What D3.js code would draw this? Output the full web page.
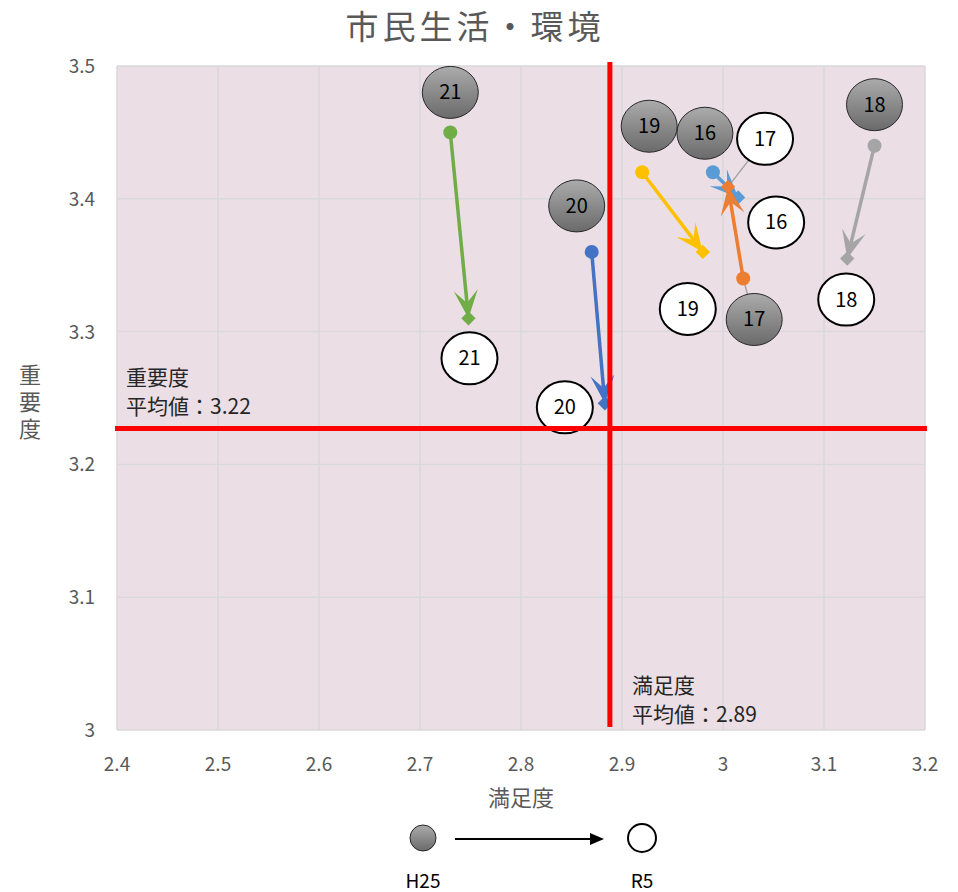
<!DOCTYPE html>
<html>
<head>
<meta charset="utf-8">
<script src="https://cdn.jsdelivr.net/npm/d3@7"></script>
<style>
  body { margin: 0; background: #fff; }
  text { font-family: "Noto Sans CJK JP", "Noto Sans", sans-serif; }
</style>
</head>
<body>
<svg width="958" height="892"></svg>
<script>
// data
var ids = ["16", "17", "18", "19", "20", "21"];
var colors = ["#5B9BD5", "#ED7D31", "#A5A5A5", "#FFC000", "#4472C4", "#70AD47"];
var satisH25 = [2.99, 3.02, 3.15, 2.92, 2.87, 2.73];
var impH25 = [3.42, 3.34, 3.44, 3.42, 3.36, 3.45];
var satisR5 = [3.015, 3.005, 3.123, 2.98, 2.883, 2.748];
var impR5 = [3.401, 3.409, 3.355, 3.36, 3.246, 3.31];
var xTicks = [2.4, 2.5, 2.6, 2.7, 2.8, 2.9, 3.0, 3.1, 3.2];
var yTicks = [3.0, 3.1, 3.2, 3.3, 3.4, 3.5];
var avgSatis = 2.888, avgSatisLabel = "2.89";
var avgImp = 3.227, avgImpLabel = "3.22";

// label bubble offsets (px) from the points
var h25Off = [[-8, -39], [11, 41], [0, -41], [7, -46], [-15, -46], [0, -40]];
var r5Off = [[38, 25], [37, -48], [-1, 41], [-15, 57], [-40, 4], [1, 40]];
var leader = [false, true, false, false, false, false];

var svg = d3.select("svg");

var x = d3.scaleLinear().domain([2.4, 3.2]).range([117, 925]);
var y = d3.scaleLinear().domain([3.0, 3.5]).range([730, 66]);

var defs = svg.append("defs");
var grad = defs.append("linearGradient").attr("id", "gbub")
    .attr("x1", 0).attr("y1", 0).attr("x2", 0).attr("y2", 1);
grad.append("stop").attr("offset", "0%").attr("stop-color", "#ababab");
grad.append("stop").attr("offset", "100%").attr("stop-color", "#6a6a6a");

var fmt = d => (d === 3 ? "3" : d.toFixed(1));

// plot area
svg.append("rect")
    .attr("x", x(2.4)).attr("y", y(3.5))
    .attr("width", x(3.2) - x(2.4)).attr("height", y(3.0) - y(3.5))
    .attr("fill", "#ebdee5");

svg.append("g").selectAll("line")
    .data(xTicks).enter().append("line")
    .attr("x1", d => x(d)).attr("x2", d => x(d))
    .attr("y1", y(3.5)).attr("y2", y(3.0))
    .attr("stroke", "#d9d9d9").attr("stroke-width", 1.5);

svg.append("g").selectAll("line")
    .data(yTicks).enter().append("line")
    .attr("x1", x(2.4)).attr("x2", x(3.2))
    .attr("y1", d => y(d)).attr("y2", d => y(d))
    .attr("stroke", "#d9d9d9").attr("stroke-width", 1.5);

// tick labels
svg.append("g").selectAll("text")
    .data(xTicks).enter().append("text")
    .attr("x", d => x(d)).attr("y", 771)
    .attr("text-anchor", "middle")
    .attr("font-size", 19).attr("fill", "#595959")
    .text(fmt);

svg.append("g").selectAll("text")
    .data(yTicks).enter().append("text")
    .attr("x", 95).attr("y", d => y(d) + 7)
    .attr("text-anchor", "end")
    .attr("font-size", 19).attr("fill", "#595959")
    .text(fmt);

// titles
svg.append("text")
    .attr("x", 475).attr("y", 39)
    .attr("text-anchor", "middle")
    .attr("font-size", 33).attr("fill", "#595959")
    .attr("letter-spacing", 4)
    .text("市民生活・環境");

svg.append("text")
    .attr("x", 521).attr("y", 806)
    .attr("text-anchor", "middle")
    .attr("font-size", 22).attr("fill", "#595959")
    .text("満足度");

svg.append("text")
    .attr("x", 30).attr("y", 364)
    .attr("font-size", 22).attr("fill", "#595959")
    .style("writing-mode", "vertical-rl")
    .style("text-orientation", "upright")
    .attr("letter-spacing", 5)
    .text("重要度");

// arrows
var series = ids.map((id, i) => ({
    id: id, color: colors[i],
    x0: x(satisH25[i]), y0: y(impH25[i]),
    x1: x(satisR5[i]), y1: y(impR5[i]),
    h: h25Off[i], r: r5Off[i], leader: leader[i]
}));

// leader lines
series.filter(d => d.leader).forEach(function(d) {
    svg.append("line")
        .attr("x1", d.x0).attr("y1", d.y0)
        .attr("x2", d.x0 + d.h[0]).attr("y2", d.y0 + d.h[1])
        .attr("stroke", "#a5a5a5").attr("stroke-width", 1.5);
    svg.append("line")
        .attr("x1", d.x1).attr("y1", d.y1)
        .attr("x2", d.x1 + d.r[0]).attr("y2", d.y1 + d.r[1])
        .attr("stroke", "#a5a5a5").attr("stroke-width", 1.5);
});

var g = svg.append("g").selectAll("g")
    .data(series).enter().append("g");

var L = 28, W = 12;
g.append("line")
    .attr("x1", d => d.x0).attr("y1", d => d.y0)
    .attr("x2", d => {
        var a = Math.atan2(d.y1 - d.y0, d.x1 - d.x0);
        return d.x1 - Math.cos(a) * L * 0.55;
    })
    .attr("y2", d => {
        var a = Math.atan2(d.y1 - d.y0, d.x1 - d.x0);
        return d.y1 - Math.sin(a) * L * 0.55;
    })
    .attr("stroke", d => d.color).attr("stroke-width", 3.5);

g.append("path")
    .attr("d", "M0,0 L" + (-L) + "," + (-W) + " L" + (-L * 0.55) + ",0 L" + (-L) + "," + W + " Z")
    .attr("transform", d => {
        var a = Math.atan2(d.y1 - d.y0, d.x1 - d.x0) * 180 / Math.PI;
        return "translate(" + d.x1 + "," + d.y1 + ") rotate(" + a + ")";
    })
    .attr("fill", d => d.color);

g.append("circle")
    .attr("cx", d => d.x0).attr("cy", d => d.y0).attr("r", 7)
    .attr("fill", d => d.color);

g.append("path")
    .attr("d", d3.symbol(d3.symbolDiamond2, 130))
    .attr("transform", d => "translate(" + d.x1 + "," + d.y1 + ")")
    .attr("fill", d => d.color);

// label bubbles
var bub = svg.append("g");
series.forEach(function(d) {
    var hx = d.x0 + d.h[0], hy = d.y0 + d.h[1];
    bub.append("ellipse")
        .attr("cx", hx).attr("cy", hy).attr("rx", 28).attr("ry", 26)
        .attr("fill", "url(#gbub)").attr("stroke", "#262626").attr("stroke-width", 1);
    bub.append("text")
        .attr("x", hx).attr("y", hy + 7)
        .attr("text-anchor", "middle").attr("font-size", 20).attr("fill", "#000")
        .text(d.id);
    var rx = d.x1 + d.r[0], ry = d.y1 + d.r[1];
    bub.append("ellipse")
        .attr("cx", rx).attr("cy", ry).attr("rx", 28).attr("ry", 26)
        .attr("fill", "#fff").attr("stroke", "#000").attr("stroke-width", 2);
    bub.append("text")
        .attr("x", rx).attr("y", ry + 7)
        .attr("text-anchor", "middle").attr("font-size", 20).attr("fill", "#000")
        .text(d.id);
});

// average lines
svg.append("line")
    .attr("x1", x(avgSatis)).attr("x2", x(avgSatis))
    .attr("y1", 62).attr("y2", 727)
    .attr("stroke", "#ff0000").attr("stroke-width", 5);
svg.append("line")
    .attr("x1", 115).attr("x2", 927)
    .attr("y1", y(avgImp)).attr("y2", y(avgImp))
    .attr("stroke", "#ff0000").attr("stroke-width", 5);

svg.append("text").attr("x", 126).attr("y", 385)
    .attr("font-size", 21).attr("fill", "#262626").text("重要度");
svg.append("text").attr("x", 126).attr("y", 414)
    .attr("font-size", 21).attr("fill", "#262626").text("平均値：" + avgImpLabel);
svg.append("text").attr("x", 632).attr("y", 693)
    .attr("font-size", 21).attr("fill", "#262626").text("満足度");
svg.append("text").attr("x", 632).attr("y", 722)
    .attr("font-size", 21).attr("fill", "#262626").text("平均値：" + avgSatisLabel);

// legend
svg.append("circle").attr("cx", 423).attr("cy", 838).attr("r", 13)
    .attr("fill", "url(#gbub)").attr("stroke", "#262626").attr("stroke-width", 1);
svg.append("circle").attr("cx", 642).attr("cy", 838).attr("r", 14)
    .attr("fill", "#fff").attr("stroke", "#000").attr("stroke-width", 2);
svg.append("line").attr("x1", 455).attr("x2", 592).attr("y1", 839).attr("y2", 839)
    .attr("stroke", "#000").attr("stroke-width", 2);
svg.append("path").attr("d", "M604,839 L590,833 L590,845 Z").attr("fill", "#000");
svg.append("text").attr("x", 423).attr("y", 888).attr("text-anchor", "middle")
    .attr("font-size", 19).attr("fill", "#000").text("H25");
svg.append("text").attr("x", 642).attr("y", 888).attr("text-anchor", "middle")
    .attr("font-size", 19).attr("fill", "#000").text("R5");
</script>
</body>
</html>
